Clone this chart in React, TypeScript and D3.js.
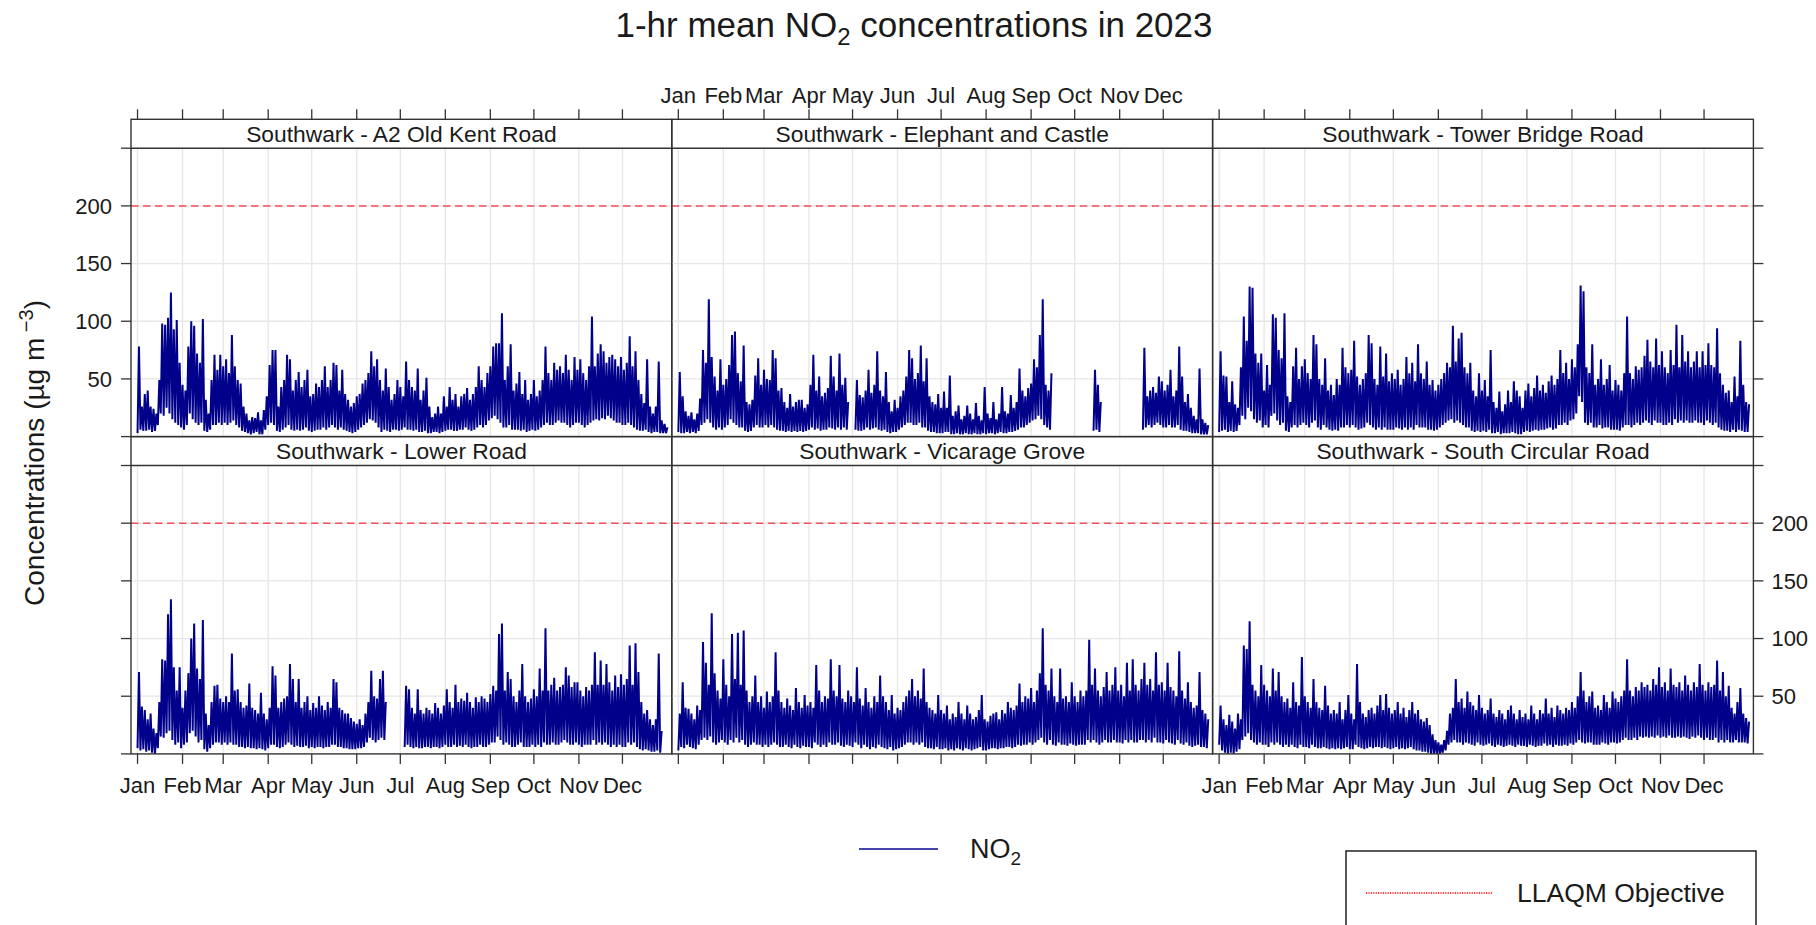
import React from "react";
import * as d3 from "d3";

// ---- data ------------------------------------------------------------------

const SITES = [
  "Southwark - A2 Old Kent Road",
  "Southwark - Elephant and Castle",
  "Southwark - Tower Bridge Road",
  "Southwark - Lower Road",
  "Southwark - Vicarage Grove",
  "Southwark - South Circular Road",
];

const MONTH_LABELS = ["Jan", "Feb", "Mar", "Apr", "May", "Jun", "Jul", "Aug", "Sep", "Oct", "Nov", "Dec"];
const Y_TICKS = [0, 50, 100, 150, 200, 250];
const Y_LABELS = [50, 100, 150, 200];
const OBJECTIVE = 200;
const BIN_DAYS = 2;

// hourly NO2 in 2-day bins: lowest and highest value of each bin
// (null = no data in that bin)
const oldKentRoadLow = [
  3, 6, 5, 5, 6, 4, 5, 10, 20, 18,
  25, 20, 15, 12, 10, 8, 6, 10, 20, 15,
  12, 10, 12, 5, 4, 6, 10, 10, 12, 10,
  12, 10, 12, 14, 10, 8, 5, 4, 3, 2,
  3, 4, 2, 2, 6, 10, 12, 10, 5, 4,
  6, 8, 10, 6, 5, 6, 5, 6, 8, 5,
  4, 5, 6, 6, 8, 6, 8, 10, 8, 6,
  8, 6, 5, 4, 3, 4, 6, 8, 10, 12,
  15, 14, 12, 8, 4, 6, 5, 4, 6, 6,
  5, 6, 8, 6, 6, 5, 6, 4, 4, 5,
  3, 3, 4, 4, 3, 4, 5, 6, 6, 5,
  5, 6, 6, 8, 6, 5, 6, 8, 10, 8,
  10, 14, 16, 18, 15, 12, 8, 8, 10, 6,
  6, 6, 5, 6, 4, 5, 6, 5, 6, 8,
  10, 12, 10, 10, 12, 14, 12, 12, 10, 8,
  10, 12, 12, 10, 8, 10, 12, 14, 15, 14,
  16, 15, 18, 16, 14, 12, 12, 10, 10, 12,
  10, 8, 6, 5, 5, 6, 4, 3, 4, 4, 3, 3, 3,
];
const oldKentRoadHigh = [
  78, 26, 37, 40, 26, 24, 20, 49, 98, 97,
  103, 125, 93, 101, 64, 45, 40, 78, 100, 96,
  72, 64, 102, 32, 20, 49, 71, 58, 71, 61,
  67, 55, 88, 61, 49, 46, 26, 20, 14, 17,
  16, 21, 14, 23, 35, 62, 75, 75, 26, 43,
  49, 71, 67, 40, 49, 56, 43, 49, 58, 35,
  37, 46, 43, 49, 61, 43, 49, 64, 62, 40,
  58, 37, 32, 26, 29, 35, 37, 46, 49, 55,
  74, 61, 67, 49, 40, 59, 43, 32, 37, 49,
  43, 35, 65, 49, 43, 40, 59, 32, 40, 51,
  26, 17, 20, 26, 20, 35, 26, 43, 32, 37,
  26, 35, 37, 42, 32, 37, 43, 61, 49, 43,
  55, 61, 78, 81, 81, 107, 49, 61, 80, 40,
  46, 56, 37, 49, 32, 37, 49, 35, 40, 49,
  78, 55, 49, 64, 58, 61, 55, 71, 58, 49,
  69, 58, 67, 55, 49, 61, 104, 61, 72, 80,
  74, 64, 69, 71, 67, 61, 69, 58, 64, 87,
  61, 74, 49, 37, 29, 67, 26, 20, 26, 65, 14, 11, 8,
];

const elephantCastleLow = [
  4, 3, 3, 4, 3, 4, 3, 5, 10, 12,
  15, 12, 8, 6, 8, 6, 8, 10, 15, 12,
  10, 8, 8, 5, 4, 5, 8, 10, 8, 8,
  10, 8, 10, 8, 6, 5, 5, 4, 5, 4,
  5, 4, 5, 4, 5, 6, 8, 6, 7, 5,
  6, 6, 8, 7, 6, 8, 6, 8, 6, null,
  null, 6, 5, 5, 6, 8, 6, 7, 8, 6,
  5, 6, 4, 3, 4, 4, 6, 8, 10, 12,
  12, 10, 10, 12, 8, 8, 5, 4, 4, 3,
  3, 3, 4, 4, 2, 2, 3, 2, 2, 3,
  2, 2, 3, 2, 2, 3, 2, 3, 3, 2,
  3, 4, 3, 3, 4, 4, 5, 6, 8, 8,
  10, 12, 14, 15, 18, 15, 10, 8, 6, null,
  null, null, null, null, null, null, null, null, null, null,
  null, null, null, 5, 6, 4, null, null, null, null,
  null, null, null, null, null, null, null, null, null, null,
  6, 8, 10, 8, 10, 12, 10, 8, 8, 10,
  8, 8, 10, 6, 5, 5, 4, 3, 3, 3, 2, 2, 2,
];
const elephantCastleHigh = [
  56, 35, 22, 18, 21, 15, 20, 33, 75, 64,
  119, 69, 52, 40, 67, 45, 50, 62, 88, 91,
  55, 48, 79, 30, 28, 32, 53, 68, 45, 58,
  50, 49, 75, 68, 40, 42, 30, 25, 37, 26,
  30, 32, 32, 25, 28, 45, 71, 40, 52, 35,
  38, 42, 70, 52, 40, 72, 45, 51, 30, null,
  null, 49, 36, 34, 40, 58, 38, 45, 74, 40,
  35, 56, 30, 22, 32, 25, 35, 40, 52, 75,
  68, 50, 55, 79, 48, 68, 35, 30, 28, 37,
  25, 39, 25, 53, 18, 22, 27, 15, 18, 27,
  20, 15, 29, 18, 14, 43, 20, 16, 30, 15,
  20, 43, 22, 20, 36, 25, 30, 59, 40, 35,
  42, 46, 67, 60, 88, 119, 45, 40, 55, null,
  null, null, null, null, null, null, null, null, null, null,
  null, null, null, 58, 45, 30, null, null, null, null,
  null, null, null, null, null, null, null, null, null, null,
  77, 35, 40, 43, 38, 52, 48, 40, 45, 58,
  35, 40, 78, 52, 30, 37, 25, 18, 15, 59, 15, 12, 10,
];

const towerBridgeRoadLow = [
  4, 5, 6, 4, 5, 4, 5, 10, 18, 15,
  25, 22, 15, 12, 14, 8, 10, 8, 18, 20,
  14, 10, 12, 5, 4, 8, 10, 8, 10, 12,
  10, 8, 12, 14, 8, 6, 10, 8, 6, 5,
  6, 5, 8, 8, 10, 8, 10, 8, 6, 7,
  8, 12, 10, 8, 6, 8, 6, 8, 6, 6,
  6, 8, 7, 6, 8, 6, 8, 6, 10, 8,
  8, 8, 6, 6, 5, 6, 8, 10, 12, 14,
  15, 12, 14, 12, 10, 8, 8, 5, 4, 5,
  4, 5, 4, 6, 3, 3, 4, 2, 3, 3,
  3, 4, 3, 2, 2, 4, 5, 4, 5, 6,
  5, 6, 6, 7, 8, 6, 7, 10, 10, 12,
  10, 14, 15, 20, 35, 30, 12, 10, 12, 8,
  8, 10, 7, 8, 8, 6, 6, 6, 5, 8,
  10, 10, 8, 10, 12, 10, 12, 14, 12, 10,
  14, 12, 12, 10, 10, 12, 10, 15, 12, 14,
  12, 14, 12, 12, 14, 12, 12, 10, 14, 12,
  10, 12, 8, 6, 5, 5, 4, 6, 4, 6, 5, 4, 4,
];
const towerBridgeRoadHigh = [
  74, 53, 52, 30, 48, 28, 25, 60, 104, 83,
  130, 129, 72, 64, 72, 40, 62, 45, 106, 103,
  75, 68, 107, 35, 30, 61, 77, 50, 61, 67,
  55, 50, 88, 80, 50, 45, 68, 40, 45, 36,
  50, 45, 77, 60, 55, 58, 83, 52, 45, 50,
  55, 88, 81, 50, 45, 78, 52, 72, 48, 55,
  50, 58, 45, 50, 69, 55, 64, 48, 80, 55,
  50, 65, 45, 49, 40, 45, 50, 55, 64, 60,
  96, 65, 85, 90, 60, 55, 64, 40, 35, 55,
  40, 49, 35, 75, 30, 25, 39, 22, 28, 40,
  30, 48, 40, 35, 25, 40, 46, 35, 42, 53,
  40, 45, 38, 48, 53, 45, 50, 75, 55, 64,
  50, 67, 60, 80, 131, 126, 60, 55, 80, 45,
  50, 67, 45, 50, 62, 40, 49, 45, 40, 55,
  104, 55, 50, 61, 58, 60, 70, 84, 65, 60,
  85, 62, 74, 60, 55, 75, 62, 97, 60, 88,
  65, 74, 60, 65, 74, 60, 74, 62, 81, 62,
  60, 94, 55, 45, 38, 40, 30, 52, 35, 83, 45, 30, 28,
];

const lowerRoadLow = [
  5, 3, 4, 2, 3, 1, 0, 5, 15, 14,
  18, 20, 12, 8, 10, 5, 8, 10, 18, 20,
  15, 10, 12, 4, 2, 5, 8, 10, 10, 8,
  10, 8, 10, 8, 8, 6, 6, 5, 6, 5,
  5, 4, 5, 4, 3, 5, 8, 8, 6, 5,
  6, 8, 10, 8, 6, 7, 6, 6, 7, 5,
  6, 5, 6, 6, 5, 6, 6, 8, 8, 6,
  6, 5, 5, 4, 4, 4, 5, 5, 6, 10,
  14, 12, 10, 12, 14, 12, null, null, null, null,
  null, null, 6, 8, 6, 5, 6, 5, 5, 6,
  6, 5, 6, 6, 5, 6, 8, 6, 6, 8,
  6, 7, 6, 8, 6, 5, 6, 6, 8, 6,
  6, 8, 10, 10, 15, 12, 8, 10, 8, 6,
  6, 8, 10, 6, 6, 6, 8, 6, 8, 6,
  10, 8, 8, 10, 8, 8, 10, 12, 10, 8,
  8, 10, 8, 6, 8, 8, 8, 12, 8, 10,
  8, 10, 8, 6, 8, 6, 8, 6, 6, 10,
  8, 10, 6, 4, 3, 4, 3, 2, 2, 3, 1, null, null,
];
const lowerRoadHigh = [
  71, 41, 38, 30, 35, 22, 18, 45, 82, 81,
  121, 134, 75, 55, 75, 40, 55, 70, 100, 113,
  74, 65, 116, 35, 25, 45, 59, 60, 48, 45,
  50, 45, 87, 55, 56, 45, 40, 42, 61, 40,
  38, 35, 53, 35, 30, 40, 76, 68, 40, 45,
  48, 50, 78, 65, 45, 65, 40, 45, 50, 38,
  44, 40, 50, 42, 38, 45, 40, 65, 62, 40,
  38, 35, 35, 31, 28, 26, 30, 25, 35, 45,
  72, 50, 48, 65, 72, 45, null, null, null, null,
  null, null, 59, 56, 40, 35, 56, 38, 35, 40,
  38, 35, 44, 40, 35, 42, 56, 45, 40, 60,
  45, 48, 46, 53, 45, 40, 49, 45, 50, 48,
  45, 52, 59, 55, 104, 113, 55, 71, 65, 50,
  45, 55, 78, 50, 45, 48, 56, 50, 74, 55,
  109, 55, 60, 66, 55, 58, 60, 75, 68, 58,
  62, 62, 55, 50, 58, 55, 60, 88, 60, 81,
  60, 78, 62, 55, 68, 58, 69, 60, 65, 94,
  60, 96, 71, 45, 35, 38, 30, 25, 30, 87, 20, null, null,
];

const vicarageGroveLow = [
  3, 6, 5, 8, 6, 5, 4, 8, 12, 14,
  12, 15, 10, 8, 10, 12, 10, 8, 12, 10,
  14, 10, 12, 8, 6, 8, 10, 8, 8, 6,
  8, 6, 8, 10, 8, 6, 6, 8, 6, 5,
  8, 6, 5, 7, 6, 6, 5, 10, 8, 6,
  8, 6, 10, 8, 8, 10, 7, 6, 8, 7,
  6, 10, 8, 5, 8, 6, 4, 6, 5, 8,
  6, 5, 4, 6, 3, 4, 5, 6, 8, 10,
  10, 8, 10, 8, 10, 6, 5, 5, 4, 6,
  4, 4, 5, 3, 4, 3, 5, 4, 3, 5,
  4, 3, 4, 5, 6, 3, 3, 4, 5, 5,
  4, 5, 5, 6, 6, 5, 6, 8, 7, 8,
  8, 10, 8, 10, 12, 14, 10, 8, 12, 8,
  7, 10, 8, 8, 7, 9, 8, 7, 8, 8,
  8, 12, 10, 12, 10, 8, 10, 12, 10, 10,
  12, 10, 10, 9, 12, 10, 12, 10, 10, 12,
  12, 10, 12, 10, 14, 10, 10, 9, 12, 10,
  9, 8, 12, 9, 8, 10, 7, 6, 7, 8, 6, 6, 5,
];
const vicarageGroveHigh = [
  35, 62, 40, 39, 35, 30, 42, 38, 97, 79,
  60, 122, 70, 55, 48, 82, 60, 50, 104, 65,
  105, 60, 107, 55, 45, 50, 68, 45, 50, 40,
  54, 45, 50, 88, 55, 45, 40, 48, 42, 38,
  57, 45, 40, 51, 42, 45, 40, 77, 55, 45,
  50, 48, 82, 55, 50, 77, 48, 45, 55, 50,
  45, 75, 48, 42, 57, 45, 40, 50, 45, 68,
  50, 45, 38, 51, 35, 40, 38, 45, 50, 55,
  65, 50, 55, 48, 74, 45, 40, 38, 35, 51,
  38, 35, 42, 30, 35, 32, 45, 35, 30, 42,
  35, 30, 32, 38, 51, 30, 28, 33, 35, 36,
  30, 38, 35, 45, 40, 38, 42, 61, 45, 50,
  48, 57, 45, 55, 70, 109, 60, 55, 74, 50,
  45, 74, 48, 50, 45, 62, 50, 45, 55, 50,
  55, 99, 60, 74, 55, 50, 58, 71, 55, 60,
  75, 55, 60, 50, 79, 55, 82, 60, 55, 65,
  79, 60, 65, 55, 88, 60, 62, 55, 79, 58,
  55, 50, 89, 55, 48, 62, 45, 40, 42, 71, 38, 35, 30,
];

const southCircularRoadLow = [
  8, 3, 1, 0, 1, 0, 2, 4, 12, 15,
  18, 12, 10, 8, 10, 8, 8, 6, 10, 8,
  10, 8, 6, 8, 6, 8, 6, 5, 8, 6,
  6, 5, 8, 6, 5, 5, 6, 5, 4, 5,
  4, 5, 4, 5, 6, 4, 4, 8, 6, 5,
  4, 5, 6, 5, 6, 6, 5, 6, 5, 4,
  5, 6, 4, 5, 4, 5, 6, 4, 3, 3,
  2, 2, 1, 0, 0, 0, 0, 1, 3, 8,
  10, 12, 10, 10, 8, 10, 9, 8, 7, 10,
  8, 7, 8, 9, 7, 6, 8, 7, 6, 7,
  8, 7, 6, 8, 7, 7, 6, 8, 7, 6,
  7, 7, 9, 7, 8, 6, 8, 7, 7, 8,
  7, 9, 8, 10, 12, 10, 9, 10, 10, 8,
  8, 8, 10, 9, 8, 10, 10, 9, 10, 12,
  14, 12, 12, 14, 12, 15, 14, 15, 14, 15,
  14, 16, 14, 15, 14, 16, 14, 14, 15, 14,
  15, 14, 13, 15, 14, 16, 14, 12, 14, 12,
  12, 14, 10, 12, 10, 12, 10, 10, 12, 10, 10, 10, 9,
];
const southCircularRoadHigh = [
  42, 30, 25, 34, 28, 22, 35, 30, 94, 91,
  115, 60, 55, 50, 77, 60, 55, 50, 74, 55,
  71, 50, 45, 48, 40, 62, 45, 42, 84, 50,
  45, 40, 65, 45, 40, 38, 59, 42, 35, 38,
  35, 45, 30, 38, 51, 35, 30, 78, 45, 35,
  32, 38, 40, 35, 42, 51, 38, 52, 40, 35,
  38, 45, 35, 40, 32, 38, 45, 35, 38, 30,
  28, 31, 25, 17, 12, 10, 8, 12, 20, 35,
  40, 65, 45, 48, 40, 54, 45, 42, 38, 51,
  40, 35, 38, 48, 35, 32, 38, 35, 30, 38,
  42, 35, 30, 38, 32, 35, 30, 42, 35, 30,
  38, 35, 48, 35, 40, 32, 42, 38, 35, 40,
  38, 45, 40, 50, 71, 55, 45, 50, 54, 40,
  42, 38, 51, 45, 40, 54, 48, 45, 50, 55,
  82, 55, 50, 58, 55, 62, 58, 60, 55, 65,
  60, 75, 58, 62, 55, 74, 60, 58, 62, 55,
  68, 60, 55, 62, 58, 78, 60, 55, 62, 58,
  60, 81, 55, 71, 50, 59, 40, 35, 45, 57, 35, 31, 28,
];

const SERIES = [
  { low: oldKentRoadLow, high: oldKentRoadHigh },
  { low: elephantCastleLow, high: elephantCastleHigh },
  { low: towerBridgeRoadLow, high: towerBridgeRoadHigh },
  { low: lowerRoadLow, high: lowerRoadHigh },
  { low: vicarageGroveLow, high: vicarageGroveHigh },
  { low: southCircularRoadLow, high: southCircularRoadHigh },
];

// ---- layout ----------------------------------------------------------------

const WIDTH = 1816;
const HEIGHT = 925;
const FONT = "'Liberation Sans', Arial, Helvetica, sans-serif";
const LINE_COLOR = "#00008B";
const AXIS_COLOR = "#333333";
const GRID_COLOR = "#e6e6e6";
const OBJ_COLOR = "#f2505a";

const GRID_LEFT = 131;
const PANEL_W = 540.8;
const GRID_TOP = 119.3;
const STRIP_H = 28.9;
const PLOT_H = 288.4;
const TICK = 10;

const YEAR_START = new Date(2023, 0, 1);
const X_DOMAIN = [new Date(2022, 11, 27, 12), new Date(2024, 0, 4, 0)];
const MONTHS = d3.timeMonth.range(YEAR_START, new Date(2024, 0, 1));

interface Pt {
  t: Date;
  v: number | null;
}

function toPoints(low: (number | null)[], high: (number | null)[]): Pt[] {
  const pts: Pt[] = [];
  low.forEach((lo, i) => {
    const t0 = d3.timeDay.offset(YEAR_START, i * BIN_DAYS);
    pts.push({ t: t0, v: lo });
    pts.push({ t: d3.timeDay.offset(t0, 1), v: high[i] });
  });
  return pts;
}

function Panel({ index }: { index: number }) {
  const col = index % 3;
  const row = Math.floor(index / 3);
  const left = GRID_LEFT + col * PANEL_W;
  const right = left + PANEL_W;
  const stripTop = GRID_TOP + row * (STRIP_H + PLOT_H);
  const plotTop = stripTop + STRIP_H;
  const plotBottom = plotTop + PLOT_H;

  const x = d3.scaleTime().domain(X_DOMAIN).range([left, right]);
  const y = d3.scaleLinear().domain([0, 250]).range([plotBottom, plotTop]);

  const line = d3
    .line<Pt>()
    .defined((d) => d.v != null)
    .x((d) => x(d.t))
    .y((d) => y(d.v as number));

  const pts = toPoints(SERIES[index].low, SERIES[index].high);

  const showTop = row === 0;
  const showTopLabels = row === 0 && col === 1;
  const showBottom = row === 1;
  const showBottomLabels = row === 1 && col !== 1;
  const leftTicks = col === 0;
  const leftLabels = col === 0 && row === 0;
  const rightTicks = col === 2;
  const rightLabels = col === 2 && row === 1;

  return (
    <g>
      {/* grid */}
      {MONTHS.map((m, i) => (
        <line key={"vg" + i} x1={x(m)} x2={x(m)} y1={plotTop} y2={plotBottom} stroke={GRID_COLOR} strokeWidth={1.3} />
      ))}
      {Y_LABELS.map((v) => (
        <line key={"hg" + v} x1={left} x2={right} y1={y(v)} y2={y(v)} stroke={GRID_COLOR} strokeWidth={1.3} />
      ))}

      {/* NO2 */}
      <path d={line(pts) || ""} fill="none" stroke={LINE_COLOR} strokeWidth={2} strokeLinejoin="bevel" />

      {/* objective */}
      <line
        x1={left}
        x2={right}
        y1={y(OBJECTIVE)}
        y2={y(OBJECTIVE)}
        stroke={OBJ_COLOR}
        strokeWidth={1.5}
        strokeDasharray="7.5,4.5"
      />

      {/* frame + strip */}
      <rect x={left} y={stripTop} width={PANEL_W} height={STRIP_H + PLOT_H} fill="none" stroke={AXIS_COLOR} strokeWidth={1.4} />
      <line x1={left} x2={right} y1={plotTop} y2={plotTop} stroke={AXIS_COLOR} strokeWidth={1.4} />
      <text
        x={(left + right) / 2}
        y={stripTop + STRIP_H / 2}
        dy="0.36em"
        textAnchor="middle"
        fontFamily={FONT}
        fontSize={22.8}
        fill="#1a1a1a"
      >
        {SITES[index]}
      </text>

      {/* x ticks */}
      {showTop &&
        MONTHS.map((m, i) => (
          <line key={"tt" + i} x1={x(m)} x2={x(m)} y1={stripTop - TICK} y2={stripTop} stroke={AXIS_COLOR} strokeWidth={1.3} />
        ))}
      {showTopLabels &&
        MONTHS.map((m, i) => (
          <text key={"tl" + i} x={x(m)} y={103} textAnchor="middle" fontFamily={FONT} fontSize={22} fill="#1a1a1a">
            {MONTH_LABELS[i]}
          </text>
        ))}
      {showBottom &&
        MONTHS.map((m, i) => (
          <line key={"bt" + i} x1={x(m)} x2={x(m)} y1={plotBottom} y2={plotBottom + TICK} stroke={AXIS_COLOR} strokeWidth={1.3} />
        ))}
      {showBottomLabels &&
        MONTHS.map((m, i) => (
          <text key={"bl" + i} x={x(m)} y={plotBottom + 39} textAnchor="middle" fontFamily={FONT} fontSize={22} fill="#1a1a1a">
            {MONTH_LABELS[i]}
          </text>
        ))}

      {/* y ticks */}
      {leftTicks &&
        Y_TICKS.map((v) => (
          <line key={"lt" + v} x1={left - TICK} x2={left} y1={y(v)} y2={y(v)} stroke={AXIS_COLOR} strokeWidth={1.3} />
        ))}
      {leftLabels &&
        Y_LABELS.map((v) => (
          <text key={"ll" + v} x={left - 19} y={y(v)} dy="0.36em" textAnchor="end" fontFamily={FONT} fontSize={22} fill="#1a1a1a">
            {v}
          </text>
        ))}
      {rightTicks &&
        Y_TICKS.map((v) => (
          <line key={"rt" + v} x1={right} x2={right + TICK} y1={y(v)} y2={y(v)} stroke={AXIS_COLOR} strokeWidth={1.3} />
        ))}
      {rightLabels &&
        Y_LABELS.map((v) => (
          <text key={"rl" + v} x={right + 18} y={y(v)} dy="0.36em" textAnchor="start" fontFamily={FONT} fontSize={22} fill="#1a1a1a">
            {v}
          </text>
        ))}
    </g>
  );
}

export default function App() {
  return (
    <div style={{ position: "absolute", left: 0, top: 0, background: "#fff" }}>
      <svg width={WIDTH} height={HEIGHT} style={{ display: "block", background: "#fff" }}>
        {/* title */}
        <text x={914} y={37} textAnchor="middle" fontFamily={FONT} fontSize={35} fill="#1a1a1a">
          1-hr mean NO
          <tspan dy={8} fontSize={24}>2</tspan>
          <tspan dy={-8}> concentrations in 2023</tspan>
        </text>

        {SITES.map((_, i) => (
          <Panel key={i} index={i} />
        ))}

        {/* y axis title */}
        <text
          transform="translate(44,453) rotate(-90)"
          textAnchor="middle"
          fontFamily={FONT}
          fontSize={28}
          fill="#1a1a1a"
        >
          Concentrations (µg m
          <tspan dy={-11} fontSize={20}> −3</tspan>
          <tspan dy={11}>)</tspan>
        </text>

        {/* legend: NO2 */}
        <line x1={859} x2={938} y1={849} y2={849} stroke="#4444aa" strokeWidth={2} />
        <text x={970} y={858} fontFamily={FONT} fontSize={27} fill="#1a1a1a">
          NO
          <tspan dy={7} fontSize={19}>2</tspan>
        </text>

        {/* legend: objective */}
        <rect x={1346} y={851} width={410} height={120} fill="none" stroke="#222" strokeWidth={1.5} />
        <line x1={1366} x2={1492} y1={893} y2={893} stroke="#ff0000" strokeWidth={1.5} strokeDasharray="1.2,1.2" />
        <text x={1517} y={902} fontFamily={FONT} fontSize={26.5} fill="#1a1a1a">
          LLAQM Objective
        </text>
      </svg>
    </div>
  );
}
